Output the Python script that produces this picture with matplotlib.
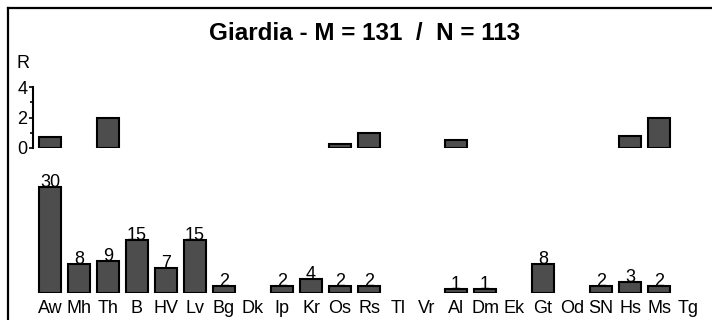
import matplotlib
matplotlib.use("Agg")
import matplotlib.pyplot as plt
from matplotlib.lines import Line2D

plt.rcParams['font.family'] = ['Liberation Sans', 'DejaVu Sans']

categories = ["Aw", "Mh", "Th", "B", "HV", "Lv", "Bg", "Dk", "Ip", "Kr", "Os", "Rs",
              "Tl", "Vr", "Al", "Dm", "Ek", "Gt", "Od", "SN", "Hs", "Ms", "Tg"]
counts = [30, 8, 9, 15, 7, 15, 2, 0, 2, 4, 2, 2, 0, 0, 1, 1, 0, 8, 0, 2, 3, 2, 0]
r_values = [0.7, 0, 2.0, 0, 0, 0, 0, 0, 0, 0, 0.25, 1.0, 0, 0, 0.5, 0, 0, 0, 0, 0, 0.8, 2.0, 0]
title = "Giardia - M = 131  /  N = 113"

W, H = 712, 320
fig = plt.figure(figsize=(W / 100, H / 100), dpi=100)

bar_face = "#4d4d4d"
x = list(range(len(categories)))
FS = 13

def fx(px):
    return px / W

def fy(py):
    return 1 - py / H

# bottom panel
left_px, right_px = 35.5, 702.5
base_py = 292.7
ppu = 3.53
ylim_b = 35
axb = fig.add_axes([fx(left_px), fy(base_py), (right_px - left_px) / W, ylim_b * ppu / H])
xs = [i for i, v in zip(x, counts) if v > 0]
vs = [v for v in counts if v > 0]
axb.bar(xs, vs, width=0.79, color=bar_face, edgecolor="black", linewidth=1.5)
for i, v in zip(xs, vs):
    axb.text(i, v, str(v), ha="center", va="baseline", fontsize=FS)
axb.set_xlim(-0.5, len(categories) - 0.5)
axb.set_ylim(0, ylim_b)
axb.set_xticks(x)
axb.set_xticklabels(categories, fontsize=FS)
axb.tick_params(axis="x", length=0, pad=5)
axb.set_yticks([])
for s in axb.spines.values():
    s.set_visible(False)
axb.patch.set_alpha(0)

# top panel
top0_py = 147.7
ppu_t = 15.1
axt = fig.add_axes([fx(left_px), fy(top0_py), (right_px - left_px) / W, 4 * ppu_t / H])
xr = [i for i, v in zip(x, r_values) if v > 0]
vr = [v for v in r_values if v > 0]
axt.bar(xr, vr, width=0.79, color=bar_face, edgecolor="black", linewidth=1.5)
axt.set_xlim(-0.5, len(categories) - 0.5)
axt.set_ylim(0, 4)
axt.set_xticks([])
axt.set_yticks([0, 2, 4])
axt.set_yticks([1, 3], minor=True)
axt.tick_params(axis="y", which="major", length=3, width=1.2, pad=1, labelsize=FS)
axt.tick_params(axis="y", which="minor", length=2, width=1.2)
for k in ["top", "right", "bottom"]:
    axt.spines[k].set_visible(False)
axt.spines["left"].set_position(("outward", 2))
axt.spines["left"].set_linewidth(1.5)
axt.patch.set_alpha(0)

fig.text(fx(17), fy(64), "R", fontsize=FS, ha="left", va="center")
fig.text(fx(365), fy(34), title, fontsize=17.5, fontweight="bold", ha="center", va="center")

# border
fig.add_artist(Line2D([fx(7.5), fx(7.5)], [fy(7.5), 0], transform=fig.transFigure, color="black", lw=1.6))
fig.add_artist(Line2D([fx(7.5), 1], [fy(7.5), fy(7.5)], transform=fig.transFigure, color="black", lw=1.6))

fig.savefig("out.png", dpi=100)
